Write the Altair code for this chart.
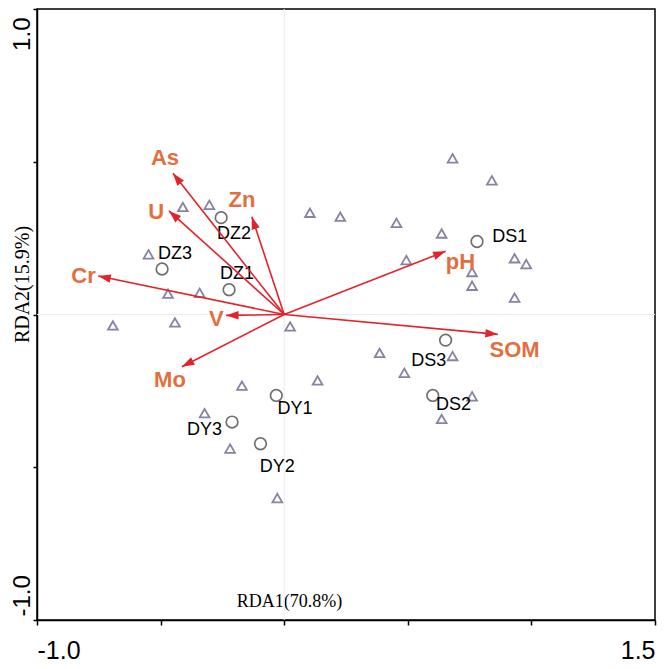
import math
import altair as alt
import pandas as pd

# ---- data ----
tri_x = [-0.693, -0.549, -0.470, -0.442, -0.342, -0.410, -0.303, -0.171, -0.322, -0.219,
         -0.028, 0.024, 0.135, 0.104, 0.227, 0.386, 0.486, 0.454, 0.494, 0.637,
         0.681, 0.840, 0.760, 0.760, 0.932, 0.979, 0.932, 0.681, 0.760, 0.637]
tri_y = [-0.036, 0.197, 0.068, -0.026, 0.071, 0.352, 0.359, -0.233, -0.323, -0.439,
         -0.601, -0.039, -0.216, 0.333, 0.320, -0.126, -0.191, 0.300, 0.178, 0.265,
         0.511, 0.439, 0.139, 0.094, 0.184, 0.165, 0.055, -0.136, -0.268, -0.342]

site_names = ["DZ1", "DZ2", "DZ3", "DS1", "DS2", "DS3", "DY1", "DY2", "DY3"]
site_x = [-0.223, -0.255, -0.494, 0.780, 0.601, 0.653, -0.032, -0.096, -0.211]
site_y = [0.081, 0.317, 0.149, 0.239, -0.265, -0.084, -0.265, -0.423, -0.352]
site_label_x = [-0.191, -0.203, -0.442, 0.912, 0.685, 0.585, 0.044, -0.028, -0.322]
site_label_y = [0.132, 0.262, 0.197, 0.255, -0.297, -0.152, -0.310, -0.498, -0.378]

env_names = ["As", "U", "Zn", "Cr", "V", "Mo", "pH", "SOM"]
env_x = [-0.450, -0.466, -0.131, -0.752, -0.235, -0.414, 0.653, 0.864]
env_y = [0.462, 0.339, 0.320, 0.126, -0.003, -0.171, 0.207, -0.065]
env_label_x = [-0.482, -0.518, -0.171, -0.812, -0.275, -0.462, 0.713, 0.932]
env_label_y = [0.511, 0.336, 0.375, 0.126, -0.016, -0.213, 0.171, -0.116]

x_ticks = [-1.0, -0.5, 0.0, 0.5, 1.0, 1.5]
y_ticks = [-1.0, -0.5, 0.0, 0.5, 1.0]
x_title = "RDA1(70.8%)"
y_title = "RDA2(15.9%)"

# ---- layout ----
W, H = 618, 611
X_DOM = [-1.0, 1.5]
Y_DOM = [-1.0, 1.0]
sx = W / (X_DOM[1] - X_DOM[0])
sy = H / (Y_DOM[1] - Y_DOM[0])

ARROW = "#e3232b"
ORANGE = "#e2703f"
TRI = "#564f7c"
CIRC = "#333333"
SANS = "'Liberation Sans Narrow', 'Liberation Sans', Arial, sans-serif"

tri_df = pd.DataFrame({"x": tri_x, "y": tri_y})
site_df = pd.DataFrame({"name": site_names, "x": site_x, "y": site_y,
                        "lx": site_label_x, "ly": site_label_y})
env_df = pd.DataFrame({"name": env_names, "x": env_x, "y": env_y,
                       "lx": env_label_x, "ly": env_label_y})
env_df["x0"] = 0.0
env_df["y0"] = 0.0
env_df["angle"] = [(math.degrees(math.atan2(a * sx, b * sy)) + 360.0) % 360.0
                   for a, b in zip(env_x, env_y)]

xs = alt.Scale(domain=X_DOM, nice=False, zero=False)
ys = alt.Scale(domain=Y_DOM, nice=False, zero=False)

x_axis = alt.Axis(
    values=x_ticks,
    labelExpr="datum.value == -1 ? '-1.0' : (datum.value == 1.5 ? '1.5' : '')",
    labelFlush=True, labelFont="Liberation Sans", labelFontSize=25,
    labelColor="black", labelPadding=13, tickSize=5, tickColor="black",
    tickWidth=1.5, domainColor="black", domainWidth=1.5, grid=False,
    title=x_title, titleFont="Liberation Serif", titleFontSize=18,
    titleFontWeight="normal", titleColor="black", titleX=252, titleY=-14,
    titleAlign="center", titleBaseline="alphabetic",
)
y_axis = alt.Axis(
    values=y_ticks,
    labelExpr="datum.value == 1 ? '1.0' : (datum.value == -1 ? '-1.0' : '')",
    labelAngle=270,
    labelAlign=alt.ConditionalAxisLabelAlign(
        condition={"test": "datum.value > 0", "value": "right"}, value="left"),
    labelBaseline="alphabetic", labelFont="Liberation Sans", labelFontSize=24,
    labelColor="black", labelPadding=4, tickSize=4, tickColor="black",
    tickWidth=1.5, domainColor="black", domainWidth=1.5, grid=False,
    labelOffset=alt.ConditionalAxisNumber(
        condition={"test": "datum.value > 0", "value": 8}, value=-4),
    title=y_title, titleFont="Liberation Serif", titleFontSize=20,
    titleFontWeight="normal", titleColor="black", titleAngle=270,
    titleX=-9, titleY=275, titleAlign="center", titleBaseline="alphabetic",
)

base = alt.Chart(tri_df)

vline = alt.Chart(pd.DataFrame({"x": [0.0]})).mark_rule(
    color="#ebebeb", strokeWidth=1).encode(x=alt.X("x:Q", scale=xs, axis=x_axis))
hline = alt.Chart(pd.DataFrame({"y": [0.0]})).mark_rule(
    color="#ebebeb", strokeWidth=1).encode(y=alt.Y("y:Q", scale=ys, axis=y_axis))

tris = base.mark_point(shape="triangle-up", filled=False, color=TRI,
                       strokeWidth=1.8, size=95).encode(
    x=alt.X("x:Q", scale=xs, axis=x_axis), y=alt.Y("y:Q", scale=ys, axis=y_axis))

circs = alt.Chart(site_df).mark_point(shape="circle", filled=False, color=CIRC,
                                      strokeWidth=1.7, size=135).encode(
    x=alt.X("x:Q", scale=xs, axis=x_axis), y=alt.Y("y:Q", scale=ys, axis=y_axis))

site_labels = alt.Chart(site_df).mark_text(
    font=SANS, fontSize=18, color="black", align="center", baseline="middle").encode(
    x=alt.X("lx:Q", scale=xs), y=alt.Y("ly:Q", scale=ys), text="name:N")

arrows = alt.Chart(env_df).mark_rule(color=ARROW, strokeWidth=1.6).encode(
    x=alt.X("x0:Q", scale=xs), y=alt.Y("y0:Q", scale=ys), x2="x:Q", y2="y:Q")

heads = alt.Chart(env_df).mark_point(
    shape="M0,0 L-0.34,1 L0.34,1 Z", filled=True, color=ARROW, opacity=1,
    size=620).encode(
    x=alt.X("x:Q", scale=xs), y=alt.Y("y:Q", scale=ys), angle=alt.Angle("angle:Q", scale=None))

env_labels = alt.Chart(env_df).mark_text(
    font=SANS, fontSize=22, fontWeight="bold", color=ORANGE,
    align="center", baseline="middle").encode(
    x=alt.X("lx:Q", scale=xs), y=alt.Y("ly:Q", scale=ys), text="name:N")

chart = alt.layer(vline, hline, tris, circs, site_labels, arrows, heads, env_labels).properties(
    width=W, height=H,
    autosize=alt.AutoSizeParams(type="none"),
    padding={"left": 29, "top": 1, "right": 2, "bottom": 49},
).configure_view(stroke="black", strokeWidth=1.5)

chart.save("out.html", embed_options={"renderer": "svg", "actions": False})
